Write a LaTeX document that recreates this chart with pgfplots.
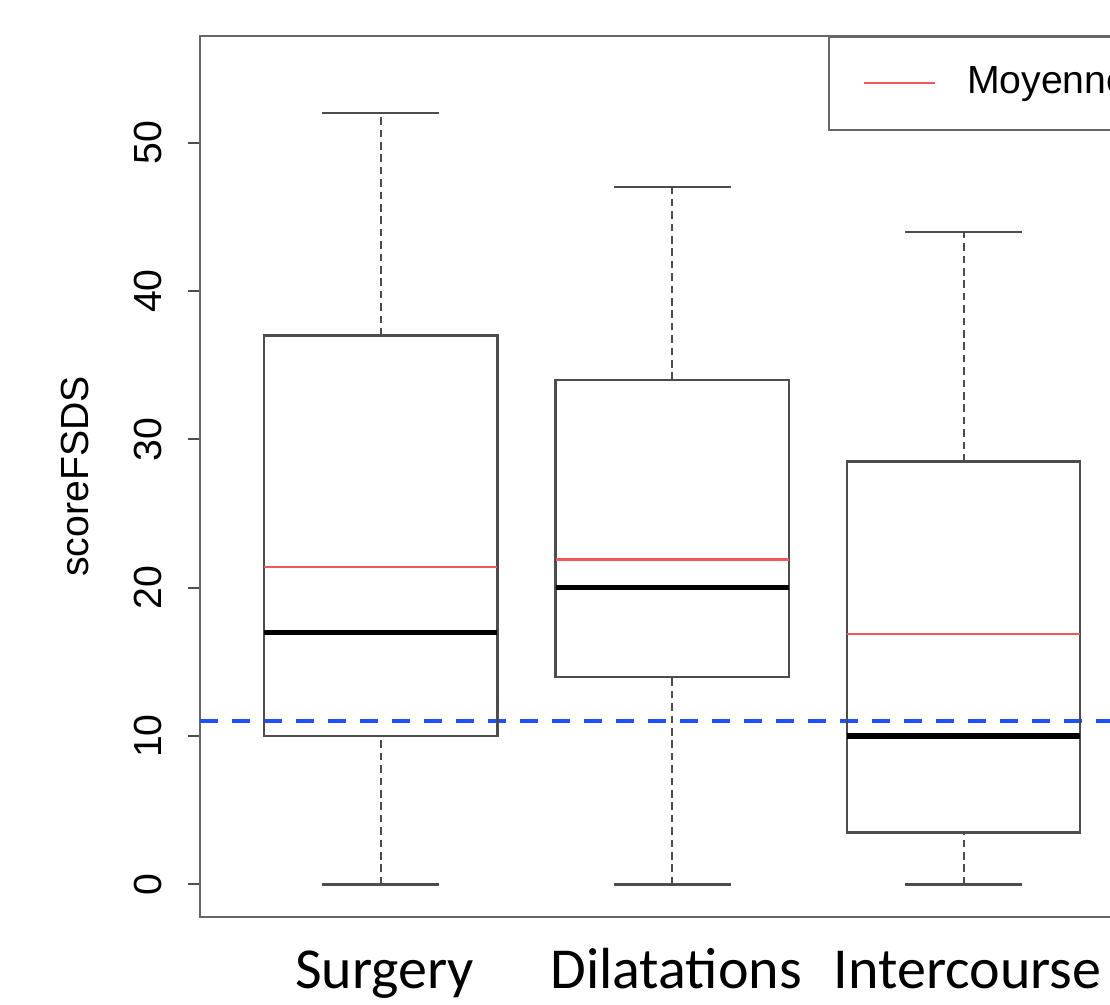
\documentclass[border=0pt]{standalone}
\usepackage{fontspec}
\setmainfont{Liberation Sans}
\newfontfamily\calib{Carlito}
\usepackage{pgfplots}
\pgfplotsset{compat=1.18}
\usepgfplotslibrary{statistics}
\definecolor{meanred}{RGB}{240,90,90}
\definecolor{refblue}{RGB}{30,80,255}
\begin{document}
\begin{tikzpicture}
\path[use as bounding box] (0,0) rectangle (277.5pt,251pt);
\clip (0,0) rectangle (277.5pt,251pt);
\begin{axis}[
  at={(50pt,21.75pt)}, anchor=south west,
  scale only axis, width=236.1pt, height=220.25pt,
  xmin=0.38, xmax=3.62, ymin=-2.2, ymax=57.2,
  axis line style={draw=black!60, line width=0.6pt},
  xtick={1,2,3},
  xticklabels={Surgery,Dilatations,Intercourse},
  ytick={0,10,20,30,40,50},
  tick align=outside,
  major tick length=3pt,
  tick style={black!70, line width=0.5pt},
  xtick style={draw=none},
  ytick pos=left, xtick pos=bottom,
  /pgf/number format/assume math mode=true,
  yticklabel style={font=\fontsize{9.8}{11}\selectfont, rotate=90, anchor=south, inner sep=0pt, yshift=6.25pt},
  xticklabel style={font=\calib\fontsize{14.5}{17}\selectfont, anchor=base, yshift=-14.75pt, xshift=1pt},
  ylabel={scoreFSDS},
  ylabel style={font=\fontsize{9.8}{11}\selectfont, at={(axis description cs:-0.1324,0.5)}, anchor=center, rotate=0},
  boxplot/draw direction=y,
  boxplot/box extend=0.8,
  boxplot/every box/.style={draw=black!70, line width=0.6pt},
  boxplot/every median/.style={draw=black, line width=1.3pt},
  boxplot/every whisker/.style={draw=none},
  legend style={at={(rel axis cs:0.665,1)}, anchor=north west, draw=black!60, line width=0.5pt,
    font=\fontsize{9.8}{11}\selectfont, inner xsep=8.5pt, inner ysep=5.5pt},
  legend image code/.code={\draw[meanred, line width=0.5pt] (0pt,0pt) -- (17.75pt,0pt);},
  legend cell align=left,
]
% reference line
\addplot[refblue, line width=1pt, dash pattern=on 4.6pt off 3.4pt, forget plot] coordinates {(0.38,11) (3.62,11)};
% whiskers (dashed)
\addplot[black!70, line width=0.55pt, dash pattern=on 1.9pt off 1.2pt, unbounded coords=jump, forget plot] coordinates {
(1,0) (1,10) (1,nan) (1,37) (1,52) (1,nan)
(2,0) (2,14) (2,nan) (2,34) (2,47) (2,nan)
(3,0) (3,3.5) (3,nan) (3,28.5) (3,44)};
% caps (solid)
\addplot[black!70, line width=0.6pt, unbounded coords=jump, forget plot] coordinates {
(0.8,0) (1.2,0) (1,nan) (0.8,52) (1.2,52) (1,nan)
(1.8,0) (2.2,0) (2,nan) (1.8,47) (2.2,47) (2,nan)
(2.8,0) (3.2,0) (3,nan) (2.8,44) (3.2,44)};
% boxes
\addplot[boxplot prepared={lower whisker=0, lower quartile=10, median=17, upper quartile=37, upper whisker=52, draw position=1}, forget plot] coordinates {};
\addplot[boxplot prepared={lower whisker=0, lower quartile=14, median=20, upper quartile=34, upper whisker=47, draw position=2}, forget plot] coordinates {};
\addplot[boxplot prepared={lower whisker=0, lower quartile=3.5, median=10, upper quartile=28.5, upper whisker=44, draw position=3}, forget plot] coordinates {};
% means
\addplot[meanred, line width=0.6pt, unbounded coords=jump] coordinates {
(0.6,21.4) (1.4,21.4) (1,nan)
(1.6,21.9) (2.4,21.9) (2,nan)
(2.6,16.9) (3.4,16.9)};
\addlegendentry{\hspace{5.75pt}Moyenne}
\end{axis}
\end{tikzpicture}
\end{document}
